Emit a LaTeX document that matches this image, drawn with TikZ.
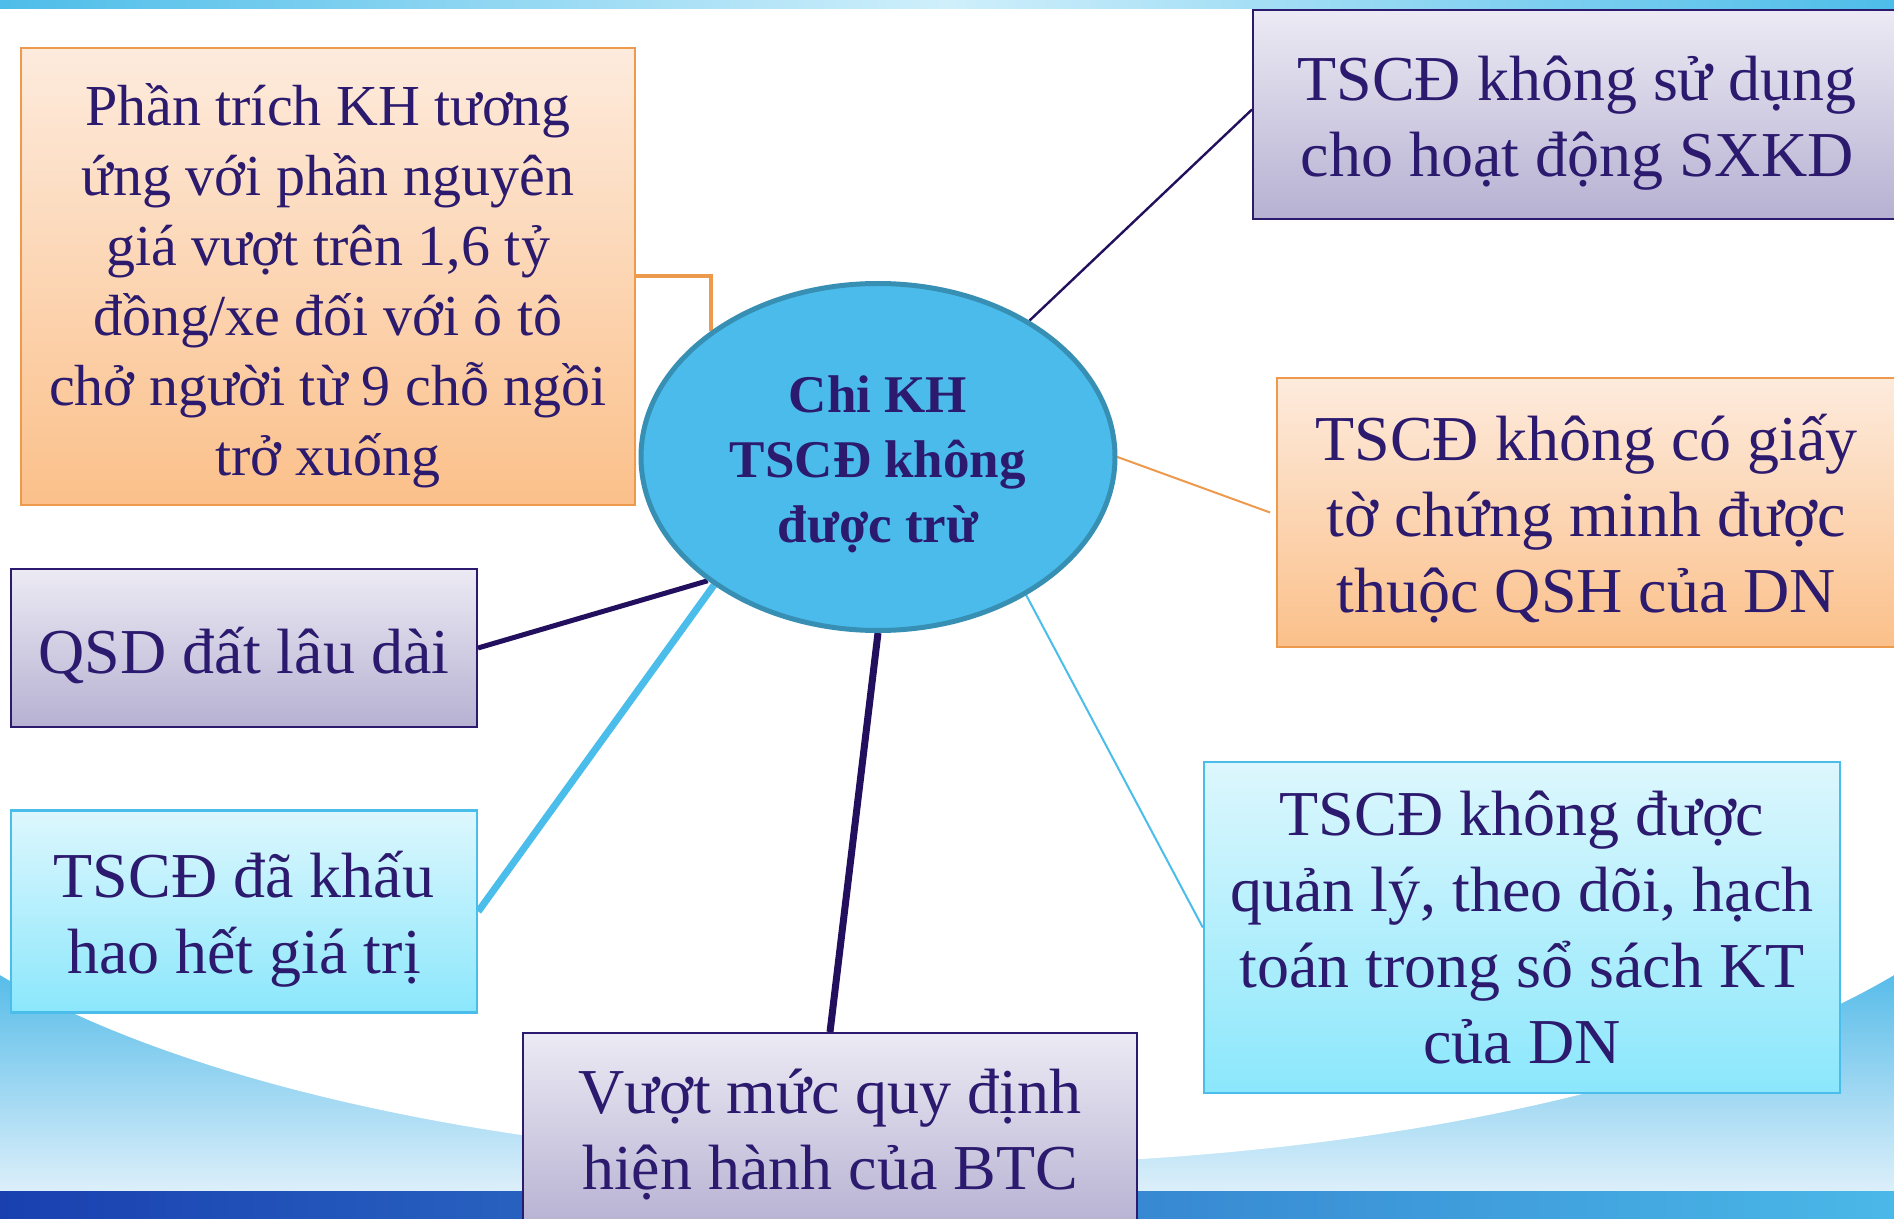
\documentclass[tikz,border=0pt]{standalone}
\usepackage{fontspec}
\setmainfont{Liberation Serif}
\usetikzlibrary{shapes.geometric}
\definecolor{txt}{HTML}{2B1A6E}
\definecolor{navyln}{HTML}{22105E}
\definecolor{navybd}{HTML}{2C1A6E}
\definecolor{lavT}{HTML}{ECEAF4}
\definecolor{lavB}{HTML}{B6B1D2}
\definecolor{orT}{HTML}{FDEBDD}
\definecolor{orB}{HTML}{FBC08A}
\definecolor{orBd}{HTML}{EE9A4D}
\definecolor{cyT}{HTML}{DDF7FD}
\definecolor{cyB}{HTML}{8BE7FC}
\definecolor{cyBd}{HTML}{4BBDEA}
\definecolor{ellF}{HTML}{4ABBEA}
\definecolor{ellBd}{HTML}{3790B3}
\definecolor{bgT}{HTML}{4FB9E8}
\definecolor{bgB}{HTML}{DCEFFA}
\definecolor{stripe}{HTML}{4DBDE9}
\definecolor{stripeM}{HTML}{CFEFFB}
\definecolor{barL}{HTML}{1A40B0}
\definecolor{barR}{HTML}{4AB8E8}
\pgfdeclarelayer{bg}
\pgfdeclarelayer{lines}
\pgfsetlayers{bg,lines,main}
\tikzset{
  boxbase/.style={rectangle, inner sep=0pt},
  lavbox/.style={boxbase, draw=navybd, line width=1pt, top color=lavT, bottom color=lavB},
  orbox/.style={boxbase, draw=orBd, line width=1pt, top color=orT, bottom color=orB},
  cybox/.style={boxbase, draw=cyBd, line width=1.2pt, top color=cyT, bottom color=cyB},
  boxtext/.style={inner sep=0pt, align=center, text=txt, font=\fontsize{32}{38}\selectfont},
  navyline/.style={draw=navyln},
  orline/.style={draw=orBd},
  cyline/.style={draw=cyBd}
}
\begin{document}
\begin{tikzpicture}[x=0.5pt,y=-0.5pt]
\useasboundingbox (0,0) rectangle (1894,1219);
\begin{pgfonlayer}{bg}
  \fill[white] (0,0) rectangle (1894,1219);
  \fill[top color=bgT, bottom color=bgB] (0,960) rectangle (1894,1191);
  \fill[white] (947,778) ellipse [x radius=550pt, y radius=193.5pt];
  \fill[left color=stripe, right color=stripe, middle color=stripeM] (0,0) rectangle (1894,9);
  \fill[left color=barL, right color=barR] (0,1191) rectangle (1894,1219);
\end{pgfonlayer}

% boxes
\node[orbox, minimum width=307pt, minimum height=228.5pt] (A) at (328,276.5) {};
\node[lavbox, minimum width=324pt, minimum height=104.5pt] (B) at (1577,114.5) {};
\node[orbox, minimum width=309.5pt, minimum height=134.5pt] (C) at (1586.5,512.5) {};
\node[cybox, minimum width=318pt, minimum height=165.5pt] (D) at (1522,927.5) {};
\node[lavbox, minimum width=307pt, minimum height=98pt] (E) at (830,1131) {};
\node[lavbox, minimum width=233pt, minimum height=79pt] (F) at (244,648) {};
\node[cybox, minimum width=233pt, minimum height=101pt] (G) at (244,911.5) {};
\node[ellipse, draw=ellBd, line width=2.5pt, fill=ellF, minimum width=237pt,
      minimum height=173.5pt, inner sep=0pt] (ell) at (878,457) {};

% texts
\node[boxtext, font=\fontsize{29}{35}\selectfont] (At) at ([yshift=-4.8pt]A.center)
  {Phần trích KH tương\\ứng với phần nguyên\\giá vượt trên 1,6 tỷ\\đồng/xe đối với ô tô\\chở người từ 9 chỗ ngồi\\trở xuống};
\node[boxtext] (Bt) at ([yshift=-4.2pt]B.center) {TSCĐ không sử dụng\\cho hoạt động SXKD};
\node[boxtext] (Ct) at ([yshift=-3pt]C.center) {TSCĐ không có giấy\\tờ chứng minh được\\thuộc QSH của DN};
\node[boxtext] (Dt) at (D.center) {TSCĐ không được\\quản lý, theo dõi, hạch\\toán trong sổ sách KT\\của DN};
\node[boxtext] (Et) at ([yshift=-1.8pt]E.center) {Vượt mức quy định\\hiện hành của BTC};
\node[boxtext] (Ft) at ([yshift=-3.6pt]F.center) {QSD đất lâu dài};
\node[boxtext] (Gt) at ([yshift=-3.9pt]G.center) {TSCĐ đã khấu\\hao hết giá trị};
\node[boxtext, font=\bfseries\fontsize{26.5}{32.5}\selectfont] (ellt) at ([yshift=-3.6pt]ell.center)
  {Chi KH\\TSCĐ không\\được trừ};

\begin{pgfonlayer}{lines}
  \draw[orline, line width=2pt] (A.east) -| (ell.143);
  \draw[navyline, line width=1.2pt] ([yshift=2.5pt]B.west) -- (ell.42);
  \draw[orline, line width=1pt] ([xshift=-3pt]C.west) -- (ell.east);
  \draw[cyline, line width=1pt] (ell.-43.4) -- (D.west);
  \draw[navyline, line width=3.5pt] (ell.south) -- (E.north);
  \draw[navyline, line width=2.5pt] (F.east) -- (ell.-144);
  \draw[cyline, line width=3.5pt] (G.east) -- (ell.-142);
\end{pgfonlayer}
\end{tikzpicture}
\end{document}
